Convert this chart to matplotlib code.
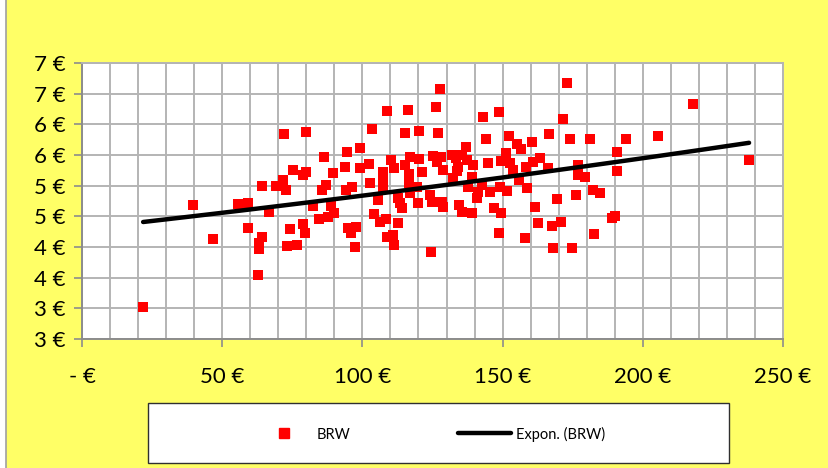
import math
import numpy as np
import matplotlib
matplotlib.use('Agg')
import matplotlib.pyplot as plt
from matplotlib.patches import Rectangle
from matplotlib.lines import Line2D
from matplotlib.ticker import FuncFormatter, MultipleLocator

# BRW scatter values (x in €, y in €)
brw_x = [21.8, 39.6, 46.7, 55.6, 59.2, 59.2, 62.8, 63.1, 63.1, 64.2,
         64.2, 66.7, 69.2, 71.7, 72.8, 72.0, 74.2, 75.2, 76.7, 73.1,
         78.8, 79.9, 79.9, 78.8, 79.5, 82.4, 84.5, 85.6, 87.0, 86.3,
         89.5, 88.8, 89.9, 87.7, 93.8, 94.5, 94.2, 96.3, 94.9, 97.7,
         95.9, 97.4, 99.1, 99.1, 102.4, 103.4, 102.7, 107.3, 107.3, 105.6,
         104.1, 106.3, 108.4, 107.3, 108.8, 110.2, 111.3, 112.7, 113.4, 114.1,
         108.8, 110.9, 111.3, 112.7, 115.2, 116.3, 115.2, 117.0, 120.2, 116.6,
         116.6, 117.0, 119.5, 119.8, 120.2, 121.3, 125.2, 128.0, 126.6, 128.7,
         127.0, 126.2, 127.7, 124.1, 124.8, 128.4, 128.7, 124.5, 132.3, 132.0,
         133.4, 135.5, 137.3, 134.1, 139.4, 133.7, 139.1, 136.9, 143.0, 148.7,
         144.1, 144.8, 149.4, 151.2, 152.6, 137.7, 141.2, 145.5, 149.1, 151.6,
         142.7, 134.4, 135.5, 139.1, 140.9, 146.9, 149.4, 148.7, 152.3, 155.1,
         156.6, 160.5, 153.7, 158.3, 160.8, 163.3, 166.2, 166.5, 155.8, 158.7,
         161.5, 158.0, 162.6, 167.6, 168.0, 169.4, 171.5, 173.0, 174.0, 181.2,
         176.9, 176.9, 179.4, 182.2, 184.7, 176.2, 170.8, 174.7, 182.6, 189.0,
         190.1, 190.8, 190.8, 194.0, 205.4, 217.9, 237.9]
brw_y = [3.02, 4.68, 4.13, 4.70, 4.72, 4.31, 3.54, 4.07, 3.97, 4.99,
         4.16, 4.57, 4.99, 5.09, 4.93, 5.84, 4.29, 5.26, 4.03, 4.02,
         5.17, 5.22, 5.87, 4.37, 4.23, 4.67, 4.46, 4.93, 5.01, 5.47,
         5.21, 4.67, 4.55, 4.49, 5.30, 5.55, 4.93, 4.98, 4.31, 4.33,
         4.23, 4.00, 5.61, 5.29, 5.35, 5.92, 5.04, 5.06, 4.96, 4.77,
         4.54, 4.41, 4.46, 5.22, 6.22, 5.42, 5.29, 4.80, 4.72, 4.64,
         4.16, 4.20, 4.03, 4.39, 5.86, 6.23, 5.34, 5.47, 5.43, 5.19,
         5.04, 4.88, 4.98, 4.72, 5.89, 5.22, 5.48, 5.47, 5.39, 5.26,
         5.86, 6.28, 6.58, 4.85, 4.73, 4.73, 4.65, 3.92, 5.12, 5.50,
         5.45, 5.50, 5.42, 5.30, 5.34, 5.24, 5.14, 5.63, 6.12, 6.20,
         5.76, 5.37, 5.40, 5.53, 5.37, 4.98, 4.90, 4.90, 4.98, 4.91,
         5.01, 4.68, 4.57, 4.55, 4.80, 4.64, 4.55, 4.23, 5.81, 5.68,
         5.60, 5.71, 5.26, 5.30, 5.39, 5.45, 5.29, 5.84, 5.09, 4.96,
         4.65, 4.15, 4.39, 4.34, 3.98, 4.78, 6.09, 6.67, 5.76, 5.76,
         5.34, 5.17, 5.14, 4.93, 4.88, 4.85, 4.41, 3.98, 4.21, 4.47,
         4.51, 5.55, 5.24, 5.76, 5.81, 6.33, 5.42]

x_ticks = [0, 50, 100, 150, 200, 250]
y_ticks = [2.5, 3.0, 3.5, 4.0, 4.5, 5.0, 5.5, 6.0, 6.5, 7.0]

FONT = 'Lato'
YELLOW = '#FFFF66'

fig = plt.figure(figsize=(8.29, 4.68), dpi=100, facecolor=YELLOW)
ax = fig.add_axes([82 / 829, 1 - 339 / 468, 701 / 829, 276 / 468])
ax.set_facecolor('white')

xs = np.array(brw_x)
ys = np.array(brw_y)
ax.scatter(xs, ys, marker='s', s=55, color='#FF0000', linewidths=0, zorder=3)

# exponential trend line (like Excel "Expon.")
b, ln_a = np.polyfit(xs, np.log(ys), 1)
tx = np.linspace(xs.min(), xs.max(), 50)
ax.plot(tx, np.exp(ln_a) * np.exp(b * tx), color='black', lw=3.2,
        solid_capstyle='round', zorder=4)

ax.set_xlim(0, 250)
ax.set_ylim(2.5, 7.0)
ax.set_xticks(x_ticks)
ax.xaxis.set_minor_locator(MultipleLocator(10))
ax.set_yticks(y_ticks)

ax.grid(True, which='major', color='#B4B4B4', lw=1.4)
ax.grid(True, which='minor', axis='x', color='#B4B4B4', lw=1.4)
ax.set_axisbelow(True)

ax.xaxis.set_major_formatter(FuncFormatter(
    lambda v, p: '- €' if v == 0 else '%d €' % v))
ax.yaxis.set_major_formatter(FuncFormatter(
    lambda v, p: '%d €' % math.floor(v + 0.5)))

ax.tick_params(which='major', direction='out', length=6, width=1.2,
               color='#8C8C8C', labelsize=16, pad=6)
ax.tick_params(which='minor', length=0)
ax.tick_params(axis='x', pad=14)
for lab in ax.get_xticklabels() + ax.get_yticklabels():
    lab.set_fontfamily(FONT)
for side in ['left', 'bottom']:
    ax.spines[side].set_color('#8C8C8C')
    ax.spines[side].set_linewidth(1.4)
for side in ['top', 'right']:
    ax.spines[side].set_color('#B4B4B4')
    ax.spines[side].set_linewidth(1.4)

# legend box
fig.patches.append(Rectangle((148 / 829, 1 - 463 / 468), 581 / 829, 60 / 468,
                             transform=fig.transFigure, facecolor='white',
                             edgecolor='#303030', lw=1.0, zorder=1))
handles = [
    Line2D([], [], marker='s', ls='none', color='#FF0000', markersize=7),
    Line2D([], [], color='black', lw=3.2, solid_capstyle='round'),
]
fig.legend(handles, ['BRW', 'Expon. (BRW)'], loc='center left',
           bbox_to_anchor=(258 / 829, 1 - 434 / 468), ncol=2, frameon=False,
           borderpad=0, borderaxespad=0, handlelength=3.6, handletextpad=0.4,
           columnspacing=7.4, prop={'family': FONT, 'size': 10.5})

# left border of the chart frame
fig.patches.append(Rectangle((0, 0), 6 / 829, 1, transform=fig.transFigure,
                             facecolor='white', edgecolor='none'))
fig.lines.append(Line2D([6.5 / 829, 6.5 / 829], [0, 1], transform=fig.transFigure,
                        color='#A0A0A0', lw=1.2))

fig.savefig('out.png', dpi=100, facecolor=YELLOW)
